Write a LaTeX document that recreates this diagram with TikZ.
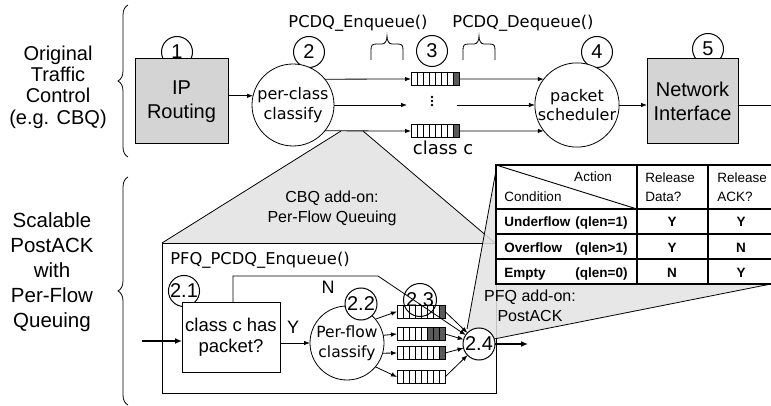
\documentclass[tikz,border=0pt]{standalone}
\usepackage{fontspec}
\setmainfont{Liberation Sans}
\newfontfamily\vfont{DejaVu Sans}
\usetikzlibrary{arrows.meta,decorations.pathreplacing}
\newcommand\fsz[2]{\fontsize{#1}{#2}\selectfont}
\definecolor{boxgray}{HTML}{D4D4D4}
\definecolor{trigray}{HTML}{E6E6E6}
\definecolor{qdark}{HTML}{5A5A5A}
\tikzset{
  arr/.style={-{Latex[length=6pt,width=4.5pt]}},
  thickarr/.style={line width=2.2pt,-{Latex[length=7pt,width=6pt]}},
  graybox/.style={draw, line width=1pt, fill=boxgray, minimum width=93, minimum height=85, inner sep=0, outer sep=0, align=center, font=\fsz{20}{24}},
  bigcirc/.style={draw, fill=white, circle, inner sep=0, outer sep=0, align=center, font=\vfont\fsz{16}{19.5}},
  numc/.style={draw, line width=1pt, fill=white, circle, minimum size=31, inner sep=0, outer sep=0, font=\fsz{20}{22}},
  lbl/.style={align=center, inner sep=0},
  qcell/.style={line width=0.6pt},
  qbox/.style={draw, line width=0.9pt, minimum width=48, minimum height=13, inner sep=0, outer sep=0},
  tt/.style={inner sep=0, font=\fsz{13.5}{19}},
  tb/.style={inner sep=0, font=\bfseries\fsz{13.5}{16}},
  smallbrace/.style={line width=0.8pt},
}
\newcommand\mkqueue[4]{%
  \foreach \k in {0,...,7}{%
    \pgfmathtruncatemacro\qd{(\k>7-#4)}%
    \ifnum\qd=1\relax
      \draw[qcell, fill=qdark] (#2+6*\k,#3-6.5) rectangle ++(6,13);%
    \else
      \draw[qcell, fill=white] (#2+6*\k,#3-6.5) rectangle ++(6,13);%
    \fi}%
  \node[qbox, anchor=west] (#1) at (#2,#3) {};%
}
\begin{document}
\begin{tikzpicture}[x=1pt,y=-1pt,line width=0.8pt]
\useasboundingbox (0,0) rectangle (771,406);

% ---------- left labels and braces
\node[lbl, font=\fsz{20}{21.3}] (ltop) at (58,87) {Original\\Traffic\\Control\\(e.g. CBQ)};
\node[lbl, font=\fsz{20.5}{25}] (lbot) at (52,272) {Scalable\\PostACK\\with\\Per-Flow\\Queuing};
\draw[decorate, decoration={brace, amplitude=10}] (128,157) -- (128,5);
\draw[decorate, decoration={brace, amplitude=10}] (128,405) -- (128,177);

% ---------- CBQ add-on gray region
\fill[trigray] (341,131) -- (363,131) -- (495,243) -- (162,243) -- cycle;
\draw (341,131) -- (162,243);
\draw (363,131) -- (495,243);
\node[lbl, font=\fsz{16}{20}] (cbqt) at (332,208) {CBQ add-on:\\Per-Flow Queuing};

% ---------- top row
\node[numc] (n1) at (177,52) {1};
\node[numc] (n2) at (309,52) {2};
\node[numc] (n3) at (432,51) {3};
\node[numc] (n4) at (597,52) {4};
\node[numc] (n5) at (708,49) {5};
\node[graybox] (ip) at (181.5,101.5) {IP\\Routing};
\node[graybox, minimum width=91] (ni) at (692.5,101.5) {Network\\Interface};
\node[bigcirc, minimum size=82] (c2) at (293,105) {per-class\\classify};
\node[bigcirc, minimum size=84] (sched) at (577,105) {packet\\scheduler};

\node[inner sep=0, font=\vfont\fsz{16.3}{19}] (enq) at (358,23) {PCDQ\_Enqueue()};
\node[inner sep=0, font=\vfont\fsz{16.3}{19}] (deq) at (523,23) {PCDQ\_Dequeue()};
\foreach \dx in {0,92}{
  \draw[smallbrace, xshift=\dx] (371,60) -- (371,50) .. controls (371,45) and (372,44) .. (377,44) -- (382,44)
    .. controls (385,44) and (387,41) .. (387,36) .. controls (387,41) and (389,44) .. (392,44) -- (397,44)
    .. controls (402,44) and (403,45) .. (403,50) -- (403,60);
}

\mkqueue{q1}{411}{79}{1}
\mkqueue{qc}{411}{131}{1}
\node[inner sep=0, font=\vfont\fsz{18}{20}] (classc) at (443,148) {class c};
\fill (432,97) circle (1.3);
\fill (432,101) circle (1.3);
\fill (432,105) circle (1.3);
\coordinate (m1) at (407,105);
\coordinate (m2) at (457,105);
\coordinate (rend) at (771,105);

\draw[arr] (c2.167 -| ip.east) -- (c2.167);
\draw[arr] (c2.39.4) -- (q1.west);
\draw[arr] (c2.east) -- (m1);
\draw[arr] (c2.-39.4) -- (qc.west);
\draw[arr] (q1.east) -- (sched.142);
\draw[arr] (m2) -- (sched.west);
\draw[arr] (qc.east) -- (sched.218);
\draw[arr] (sched.east) -- (sched.east -| ni.west);
\draw (ni.east |- rend) -- (rend);

% ---------- PFQ enqueue box
\node[draw, fill=white, minimum width=334, minimum height=150, inner sep=0, outer sep=0, anchor=north west] (pfqbox) at (162,243) {};
\node[inner sep=0, anchor=west, font=\vfont\fsz{16.3}{19}] (pfqt) at (170,260) {PFQ\_PCDQ\_Enqueue()};

\node[numc, minimum size=30] (n21) at (184,291) {2.1};
\node[draw, fill=white, minimum width=98, minimum height=70, inner sep=0, outer sep=0, align=center, font=\fsz{18.5}{21}] (cbox) at (231,337) {class c has\\packet?};
\node[bigcirc, minimum size=74, font=\vfont\fsz{15.5}{20}] (pf) at (347,343) {Per-flow\\classify};
\node[numc, minimum size=32] (n22) at (361,304) {2.2};

\mkqueue{r1}{397}{311.5}{1}
\mkqueue{r2}{397}{334}{3}
\mkqueue{r3}{397}{353}{1}
\mkqueue{r4}{397}{377}{0}
\node[numc, fill=none, minimum size=33] (n23) at (420,300) {2.3};

% ---------- PFQ add-on gray region
\fill[black!11, fill opacity=0.85] (467,329) -- (497,165) -- (771,284) -- (494,339) -- cycle;
\draw (467,329) -- (497,165);
\draw (494,339) -- (771,284);
\node[lbl, font=\fsz{16}{20}] (pfqadd) at (530,306) {PFQ add-on:\\PostACK};

% ---------- table
\fill[white] (496,165) rectangle (771,284);
\draw[line width=1.2pt] (496,209) -- (771,209);
\draw[line width=1.2pt] (496,234) -- (771,234);
\draw[line width=1.2pt] (496,259) -- (771,259);
\draw[line width=1.6pt] (637,165) -- (637,284);
\draw[line width=1.6pt] (708,165) -- (708,284);
\draw[line width=0.9pt] (496,165) -- (637,209);
\draw[line width=2.6pt] (771,165) -- (496,165) -- (496,284) -- (771,284);
\node[tt, anchor=base] (tact) at (593,182) {Action};
\node[tt, anchor=base] (tcond) at (533,202) {Condition};
\node[tt, anchor=base west] (trd1) at (645,183) {Release};
\node[tt, anchor=base west] (trd2) at (645,202) {Data?};
\node[tt, anchor=base west] (tra1) at (717,183) {Release};
\node[tt, anchor=base west] (tra2) at (717,202) {ACK?};
\node[tb, anchor=base west] (u1) at (504,227) {Underflow};
\node[tb, anchor=base east] (u2) at (628,227) {(qlen=1)};
\node[tb, anchor=base west] (o1) at (504,252) {Overflow};
\node[tb, anchor=base east] (o2) at (628,252) {(qlen>1)};
\node[tb, anchor=base west] (e1) at (504,277) {Empty};
\node[tb, anchor=base east] (e2) at (628,277) {(qlen=0)};
\node[tb, anchor=base] (v11) at (672,227) {Y};
\node[tb, anchor=base] (v12) at (741,227) {Y};
\node[tb, anchor=base] (v21) at (672,252) {Y};
\node[tb, anchor=base] (v22) at (741,252) {N};
\node[tb, anchor=base] (v31) at (672,277) {N};
\node[tb, anchor=base] (v32) at (741,277) {Y};

% ---------- 2.4 and its connectors
\node[numc, minimum size=32] (n24) at (479,344) {2.4};
\coordinate (inl) at (142,341);
\coordinate (outp) at (528,344);
\coordinate (nA) at (233,276);
\coordinate (nB) at (378,276);
\draw[thickarr] (inl) -- (inl -| cbox.west);
\draw[arr] (cbox.east |- pf.west) -- (pf.west);
\draw[arr] (nA |- cbox.north) -- (nA) -- (nB) -- (n24);
\node[inner sep=0, font=\fsz{18}{20}] (ylab) at (293,327) {Y};
\node[inner sep=0, font=\fsz{18}{20}] (nlab) at (328,287) {N};
\draw[arr] (pf.40) -- (r1.west);
\draw[arr] (pf.12) -- (r2.west);
\draw[arr] (pf.-16) -- (r3.west);
\draw[arr] (pf.-40) -- (r4.west);
\draw[arr] (r1.east) -- (n24);
\draw[arr] (r2.east) -- (n24);
\draw[arr] (r3.east) -- (n24);
\draw[arr] (r4.east) -- (n24);
\draw[thickarr] (n24.east) -- (outp);
\end{tikzpicture}
\end{document}
